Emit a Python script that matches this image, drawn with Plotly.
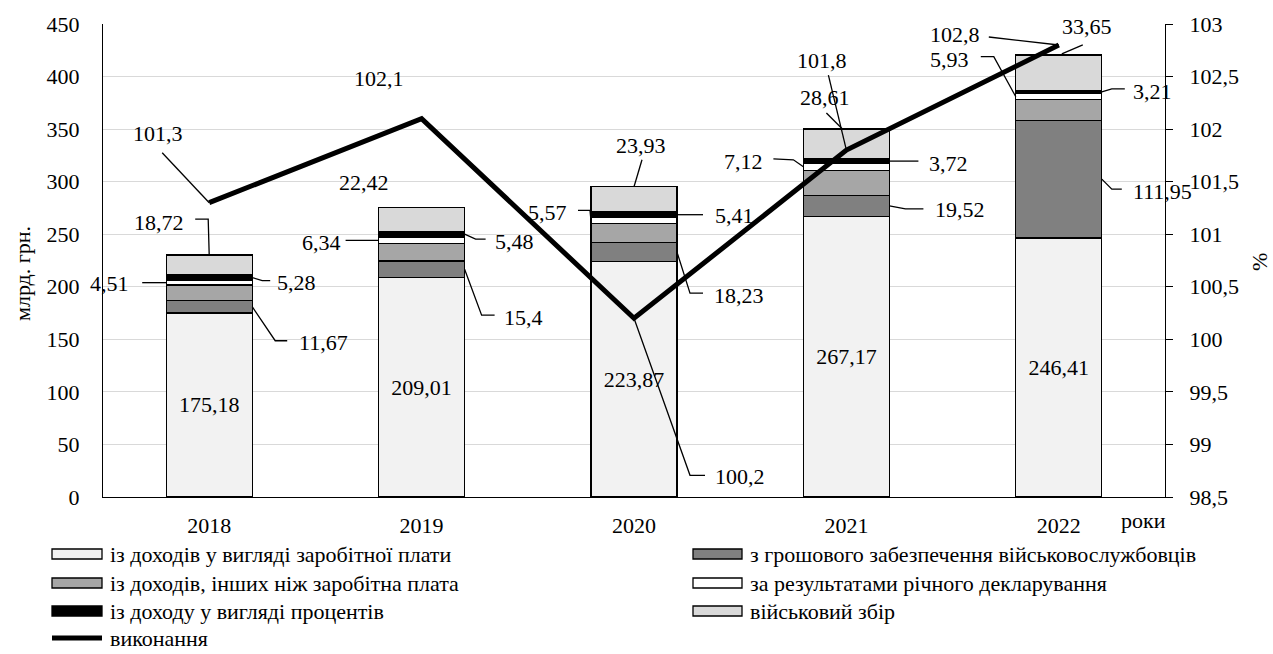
import numpy as np
import plotly.graph_objects as go

# ---- data (млрд. грн., %) ----
years = ["2018", "2019", "2020", "2021", "2022"]
wage = [175.18, 209.01, 223.87, 267.17, 246.41]
military_pay = [11.67, 15.4, 18.23, 19.52, 111.95]
other_income = [14.8, 16.6, 18.2, 23.9, 19.5]
declaration = [4.51, 6.34, 5.57, 7.12, 5.93]
interest = [5.28, 5.48, 5.41, 3.72, 3.21]
military_levy = [18.72, 22.42, 23.93, 28.61, 33.65]
execution = [101.3, 102.1, 100.2, 101.8, 102.8]

series_names = [
    "із доходів у вигляді заробітної плати",
    "з грошового забезпечення військовослужбовців",
    "із доходів, інших ніж заробітна плата",
    "за результатами річного декларування",
    "із доходу у вигляді процентів",
    "військовий збір",
]
series_values = [wage, military_pay, other_income, declaration, interest, military_levy]
series_colors = ["#f2f2f2", "#808080", "#a6a6a6", "#ffffff", "#000000", "#d9d9d9"]
line_name = "виконання"

# ---- geometry ----
FONT = "Times New Roman, Liberation Serif, DejaVu Serif, serif"
FS = 22
W, H = 1273, 654
ML, MR, MT, MB = 103, 108, 24, 157
PW, PH = W - ML - MR, H - MT - MB
X0, X1 = -0.5, 4.5
Y0, Y1 = 0, 450
R0, R1 = 98.5, 103
BW = 0.405


def fmt(v):
    return f"{v:.2f}".rstrip("0").rstrip(".").replace(".", ",")


def to_px(x, y):
    return ML + (x - X0) / (X1 - X0) * PW, MT + (Y1 - y) / (Y1 - Y0) * PH


def from_px(px, py):
    return X0 + (px - ML) / PW * (X1 - X0), Y1 - (py - MT) / PH * (Y1 - Y0)


def right_to_left(v):
    return Y0 + (v - R0) / (R1 - R0) * (Y1 - Y0)


def paper(px, py):
    return (px - ML) / PW, (MT + PH - py) / PH


xs = np.arange(len(years))
vals = np.array(series_values, dtype=float)
bottoms = np.vstack([np.zeros(len(years)), np.cumsum(vals, axis=0)[:-1]])

fig = go.Figure()

for k, (name, v, col) in enumerate(zip(series_names, series_values, series_colors)):
    fig.add_trace(go.Bar(
        x=xs, y=v, name=name, width=BW,
        marker=dict(color=col, line=dict(color="black", width=1.3)),
        text=[fmt(t) for t in v] if k == 0 else None,
        textposition="inside" if k == 0 else "none",
        insidetextanchor="middle",
        textfont=dict(family=FONT, size=FS, color="black"),
        showlegend=False,
    ))

fig.add_trace(go.Scatter(
    x=xs, y=execution, name=line_name, yaxis="y2", mode="lines",
    line=dict(color="black", width=5), showlegend=False,
))

# ---- callouts: (series index or "line", year, side, leader offsets px, text offset px) ----
callouts = [
    (5, 0, "T", [(0, 0), (-1, -36), (-14, -36)], (-50, -33)),
    (3, 0, "L", [(0, 0), (-24, 0)], (-57, 1)),
    (4, 0, "R", [(0, 0), (10, 3), (18, 3)], (44, 5)),
    (1, 0, "R", [(0, 0), (23, 34), (35, 34)], (71, 36)),
    ("line", 0, None, [(0, 0), (-47, -50)], (-51, -69)),
    (5, 1, "T", [], (-58, -25)),
    (3, 1, "L", [(0, 0), (-33, 0)], (-57, 2)),
    (4, 1, "R", [(0, 0), (11, 5), (21, 5)], (50, 7)),
    (1, 1, "R", [(0, 0), (17, 46), (30, 46)], (59, 48)),
    ("line", 1, None, [], (-43, -40)),
    (5, 2, "T", [(0, 0), (8, -27)], (7, -41)),
    (3, 2, "L", [(0, 0), (-1, -10), (-13, -10)], (-43, -8)),
    (4, 2, "R", [(0, 0), (26, 0)], (57, 1)),
    (1, 2, "R", [(0, 0), (13, 41), (26, 41)], (62, 43)),
    ("line", 2, None, [(0, 0), (56, 157), (71, 157)], (106, 158)),
    (5, 3, "T", [(-4, 0), (-20, -16)], (-21, -32)),
    ("line", 3, None, [(0, 0), (-18, -75)], (-24, -90)),
    (3, 3, "L", [(0, 0), (-10, -7), (-30, -8)], (-60, -5)),
    (4, 3, "R", [(0, 0), (29, 0)], (59, 2)),
    (1, 3, "R", [(0, 0), (16, 3), (34, 3)], (71, 4)),
    (5, 4, "T", [(3, -1), (24, -10)], (28, -28)),
    ("line", 4, None, [(0, 0), (-70, -8)], (-104, -11)),
    (3, 4, "L", [(0, 0), (-22, -40), (-35, -40)], (-66, -37)),
    (4, 4, "R", [(0, 0), (10, -3), (23, -3)], (51, 0)),
    (1, 4, "R", [(0, 0), (10, 10), (20, 10)], (61, 12)),
]

shapes = []
annotations = []
for key, i, side, pts, toff in callouts:
    if key == "line":
        ax, ay = i, right_to_left(execution[i])
        label = fmt(execution[i])
    else:
        lo = bottoms[key][i]
        hi = lo + vals[key][i]
        label = fmt(vals[key][i])
        if side == "T":
            ax, ay = i, hi
        elif side == "L":
            ax, ay = i - BW / 2, (lo + hi) / 2
        else:
            ax, ay = i + BW / 2, (lo + hi) / 2
    apx, apy = to_px(ax, ay)
    if pts:
        coords = [from_px(apx + dx, apy + dy) for dx, dy in pts]
        path = "M " + " L ".join(f"{cx:.5f},{cy:.5f}" for cx, cy in coords)
        shapes.append(dict(type="path", xref="x", yref="y", path=path,
                           line=dict(color="black", width=1.3)))
    tx, ty = from_px(apx + toff[0], apy + toff[1])
    annotations.append(dict(x=tx, y=ty, xref="x", yref="y", text=label,
                            showarrow=False, xanchor="center", yanchor="middle",
                            font=dict(family=FONT, size=FS, color="black")))

# ---- axis titles ----
for text, (px, py), ang in [("млрд. грн.", (22, 274), -90), ("%", (1259, 262), -90),
                            ("роки", (1143, 520), 0)]:
    x, y = paper(px, py)
    annotations.append(dict(x=x, y=y, xref="paper", yref="paper", text=text,
                            showarrow=False, textangle=ang, xanchor="center",
                            yanchor="middle",
                            font=dict(family=FONT, size=FS, color="black")))

# ---- legend drawn as two columns below the plot ----
col_x = [(52, 102, 108), (693, 742, 748)]
row_y = [554, 583, 611, 638]
for k, (name, col) in enumerate(zip(series_names, series_colors)):
    r, c = divmod(k, 2)
    x0, x1, tx = col_x[c]
    yc = row_y[r]
    p0 = paper(x0, yc + 5)
    p1 = paper(x1, yc - 5)
    shapes.append(dict(type="rect", xref="paper", yref="paper",
                       x0=p0[0], y0=p0[1], x1=p1[0], y1=p1[1],
                       fillcolor=col, line=dict(color="black", width=1.3)))
    tpx, tpy = paper(tx, yc)
    annotations.append(dict(x=tpx, y=tpy, xref="paper", yref="paper", text=name,
                            showarrow=False, xanchor="left", yanchor="middle",
                            font=dict(family=FONT, size=FS, color="black")))
x0, x1, tx = col_x[0]
yc = row_y[3]
p0 = paper(x0, yc)
p1 = paper(x1, yc)
shapes.append(dict(type="line", xref="paper", yref="paper",
                   x0=p0[0], y0=p0[1], x1=p1[0], y1=p1[1],
                   line=dict(color="black", width=5)))
tpx, tpy = paper(tx, yc)
annotations.append(dict(x=tpx, y=tpy, xref="paper", yref="paper", text=line_name,
                        showarrow=False, xanchor="left", yanchor="middle",
                        font=dict(family=FONT, size=FS, color="black")))

fig.update_layout(
    width=W, height=H,
    margin=dict(l=ML, r=MR, t=MT, b=MB, pad=0),
    barmode="stack",
    separators=", ",
    plot_bgcolor="white", paper_bgcolor="white",
    font=dict(family=FONT, size=FS, color="black"),
    showlegend=False,
    xaxis=dict(range=[X0, X1], tickvals=list(xs), ticktext=years,
               showgrid=False, zeroline=False, showline=True,
               linecolor="black", linewidth=1.3, ticks="",
               ticklabelstandoff=8, tickfont=dict(family=FONT, size=FS)),
    yaxis=dict(range=[Y0, Y1], tickvals=list(range(0, 451, 50)),
               showgrid=True, gridcolor="#d9d9d9", gridwidth=1,
               zeroline=False, showline=True, linecolor="black", linewidth=1.3,
               ticks="", ticklabelstandoff=18, tickfont=dict(family=FONT, size=FS)),
    yaxis2=dict(range=[R0, R1], overlaying="y", side="right",
                tick0=98.5, dtick=0.5, showgrid=False, zeroline=False,
                showline=True, linecolor="black", linewidth=1.3,
                ticks="outside", ticklen=7, tickcolor="black", tickwidth=1.3,
                ticklabelstandoff=12, tickfont=dict(family=FONT, size=FS)),
    shapes=shapes,
    annotations=annotations,
)

fig.write_html("out.html")
